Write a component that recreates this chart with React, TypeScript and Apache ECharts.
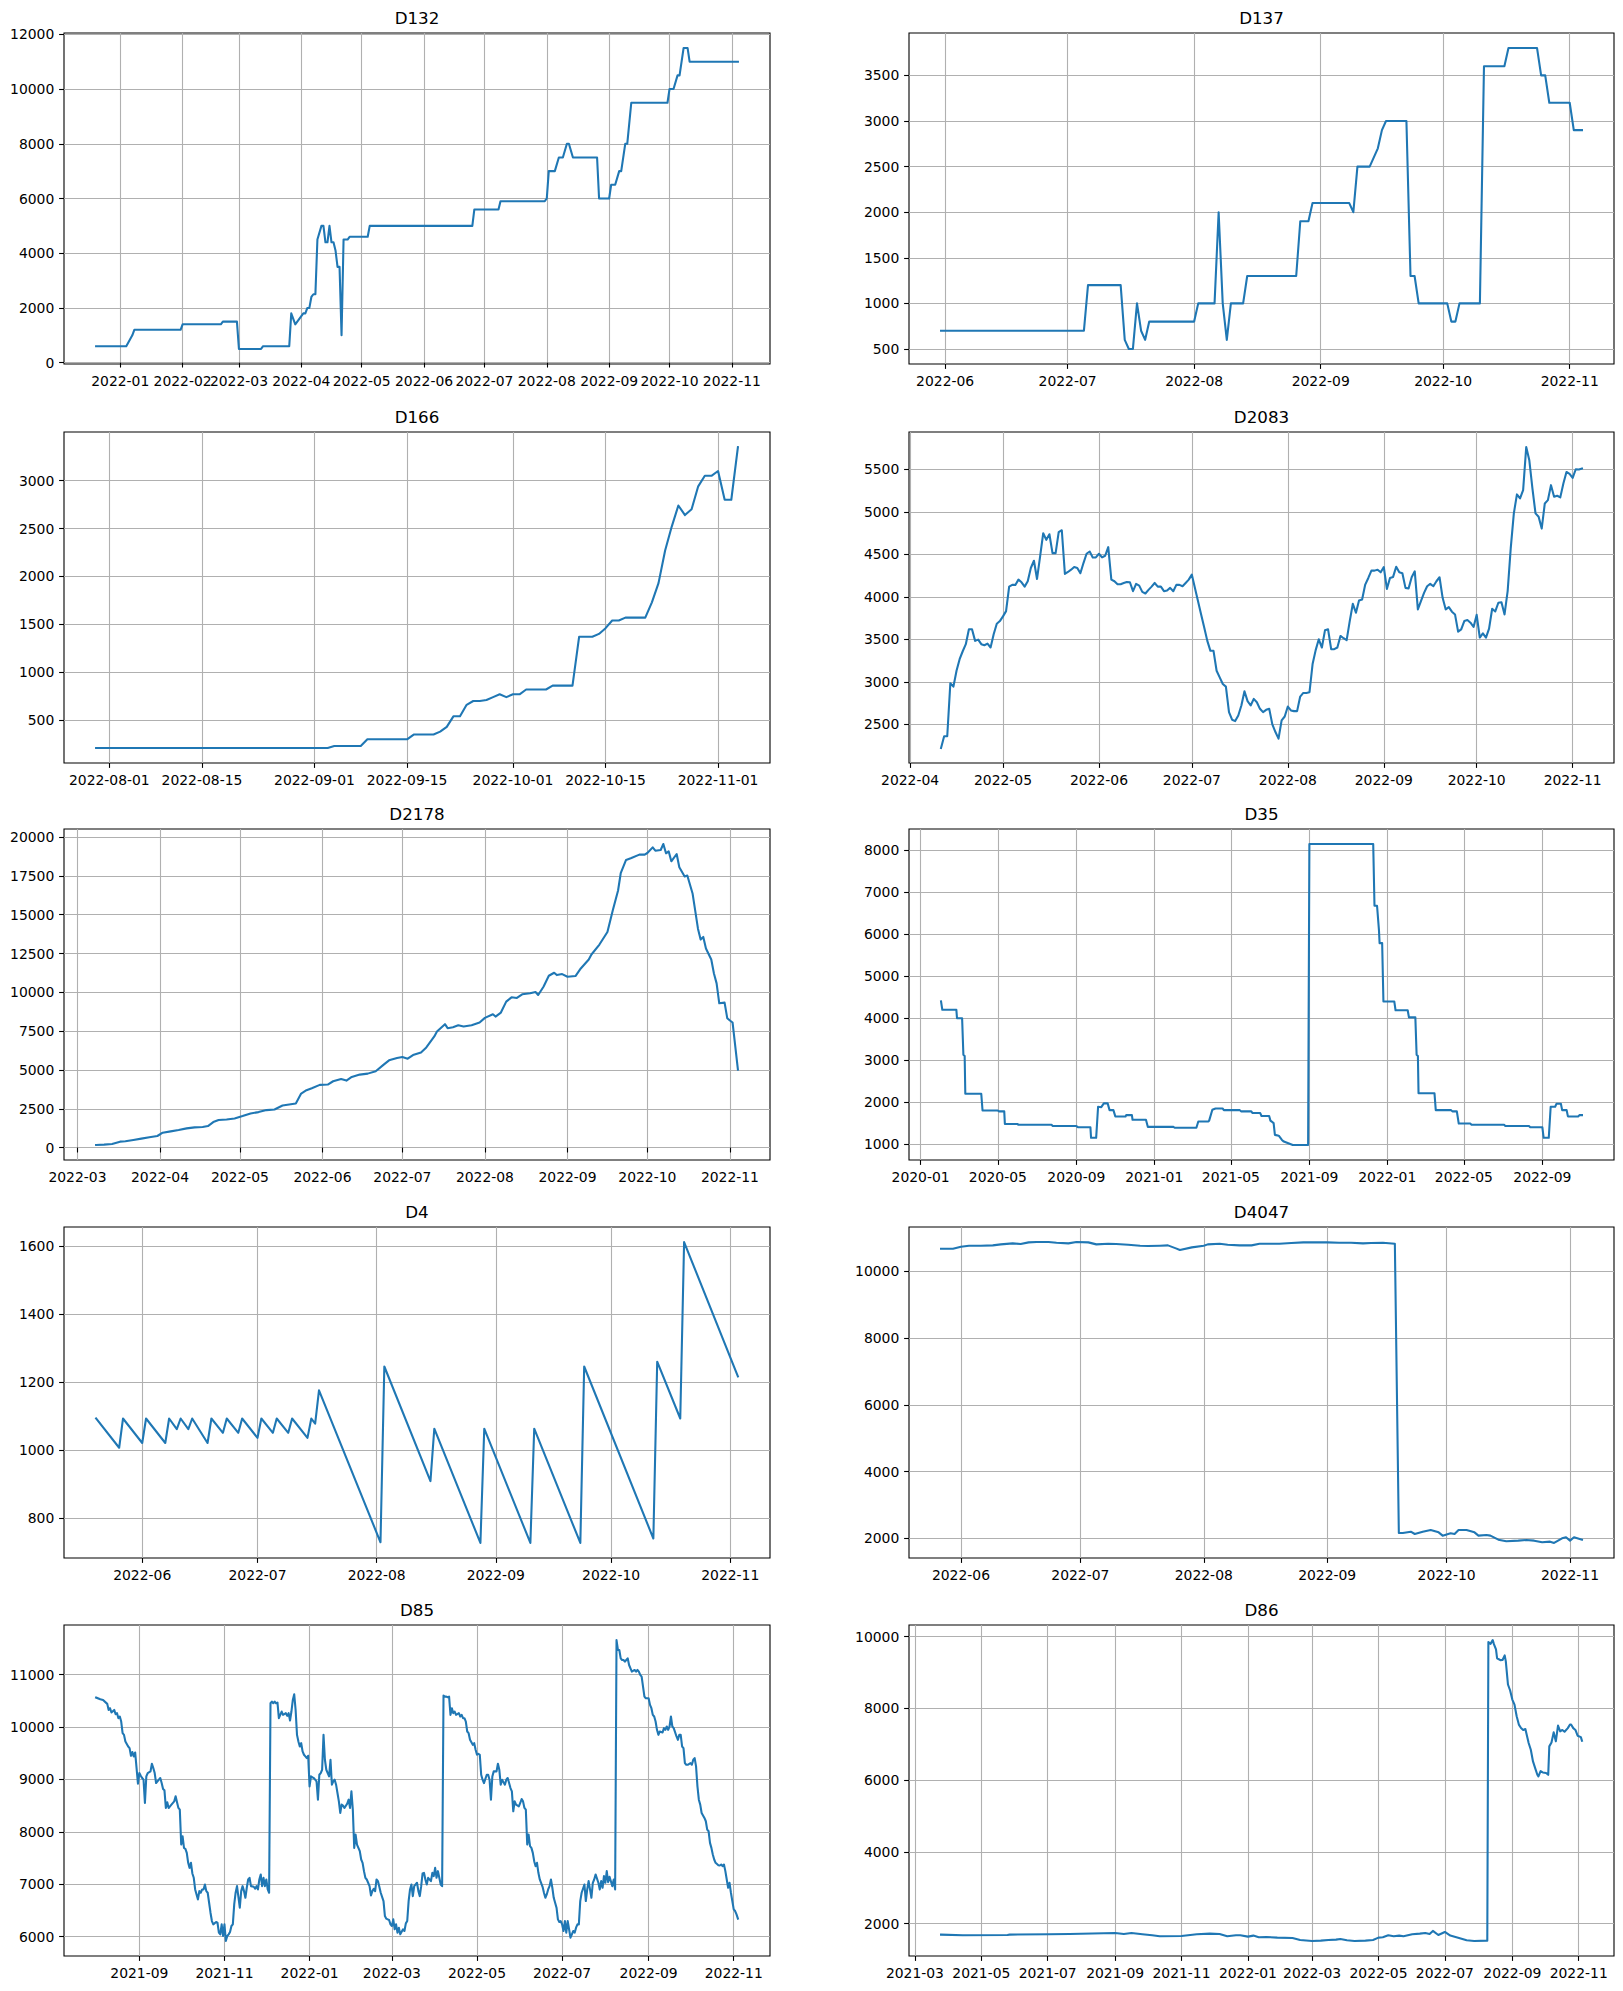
import React, { useEffect, useRef } from 'react';
import * as echarts from 'echarts';

// ---------------- DATA ----------------
// Step-like series: [date, value]
const d132Data: [string, number][] = [
  ['2021-12-20', 600], ['2022-01-04', 600], ['2022-01-07', 1000], ['2022-01-08', 1200], ['2022-01-31', 1200],
  ['2022-02-01', 1400], ['2022-02-20', 1400], ['2022-02-21', 1500], ['2022-02-28', 1500], ['2022-03-01', 500],
  ['2022-03-12', 500], ['2022-03-13', 600], ['2022-03-26', 600], ['2022-03-27', 1800], ['2022-03-29', 1400],
  ['2022-03-31', 1600], ['2022-04-02', 1800], ['2022-04-03', 1800], ['2022-04-04', 2000], ['2022-04-05', 2000],
  ['2022-04-06', 2400], ['2022-04-07', 2500], ['2022-04-08', 2500], ['2022-04-09', 4500], ['2022-04-11', 5000],
  ['2022-04-12', 5000], ['2022-04-13', 4400], ['2022-04-14', 4400], ['2022-04-15', 5000], ['2022-04-16', 4400],
  ['2022-04-17', 4400], ['2022-04-18', 4100], ['2022-04-19', 3500], ['2022-04-20', 3500], ['2022-04-21', 1000],
  ['2022-04-22', 4500], ['2022-04-24', 4500], ['2022-04-25', 4600], ['2022-05-04', 4600], ['2022-05-05', 5000],
  ['2022-06-25', 5000], ['2022-06-26', 5600], ['2022-07-08', 5600], ['2022-07-09', 5900], ['2022-07-31', 5900],
  ['2022-08-01', 6000], ['2022-08-02', 7000], ['2022-08-05', 7000], ['2022-08-07', 7500], ['2022-08-09', 7500],
  ['2022-08-11', 8000], ['2022-08-12', 8000], ['2022-08-14', 7500], ['2022-08-26', 7500], ['2022-08-27', 6000],
  ['2022-09-01', 6000], ['2022-09-02', 6500], ['2022-09-04', 6500], ['2022-09-06', 7000], ['2022-09-07', 7000],
  ['2022-09-09', 8000], ['2022-09-10', 8000], ['2022-09-12', 9500], ['2022-09-30', 9500], ['2022-10-01', 10000],
  ['2022-10-03', 10000], ['2022-10-05', 10500], ['2022-10-06', 10500], ['2022-10-08', 11500], ['2022-10-10', 11500],
  ['2022-10-11', 11000], ['2022-11-04', 11000],
];
const d132XTicks = ['2022-01', '2022-02', '2022-03', '2022-04', '2022-05', '2022-06', '2022-07', '2022-08', '2022-09', '2022-10', '2022-11'];
const d132YTicks = [0, 2000, 4000, 6000, 8000, 10000, 12000];

const d137Data: [string, number][] = [
  ['2022-05-31', 700], ['2022-07-05', 700], ['2022-07-06', 1200], ['2022-07-14', 1200], ['2022-07-15', 600],
  ['2022-07-16', 500], ['2022-07-17', 500], ['2022-07-18', 1000], ['2022-07-19', 700], ['2022-07-20', 600],
  ['2022-07-21', 800], ['2022-08-01', 800], ['2022-08-02', 1000], ['2022-08-06', 1000], ['2022-08-07', 2000],
  ['2022-08-08', 1000], ['2022-08-09', 600], ['2022-08-10', 1000], ['2022-08-13', 1000], ['2022-08-14', 1300],
  ['2022-08-26', 1300], ['2022-08-27', 1900], ['2022-08-29', 1900], ['2022-08-30', 2100], ['2022-09-08', 2100],
  ['2022-09-09', 2000], ['2022-09-10', 2500], ['2022-09-13', 2500], ['2022-09-15', 2700], ['2022-09-16', 2900],
  ['2022-09-17', 3000], ['2022-09-22', 3000], ['2022-09-23', 1300], ['2022-09-24', 1300], ['2022-09-25', 1000],
  ['2022-10-02', 1000], ['2022-10-03', 800], ['2022-10-04', 800], ['2022-10-05', 1000], ['2022-10-10', 1000],
  ['2022-10-11', 3600], ['2022-10-16', 3600], ['2022-10-17', 3800], ['2022-10-24', 3800], ['2022-10-25', 3500],
  ['2022-10-26', 3500], ['2022-10-27', 3200], ['2022-11-01', 3200], ['2022-11-02', 2900], ['2022-11-04', 2900],
];
const d137XTicks = ['2022-06', '2022-07', '2022-08', '2022-09', '2022-10', '2022-11'];
const d137YTicks = [500, 1000, 1500, 2000, 2500, 3000, 3500];

const d166Data: [string, number][] = [
  ['2022-07-30', 210], ['2022-09-03', 210], ['2022-09-04', 230], ['2022-09-08', 230], ['2022-09-09', 300],
  ['2022-09-15', 300], ['2022-09-16', 350], ['2022-09-19', 350], ['2022-09-20', 380], ['2022-09-21', 430],
  ['2022-09-22', 540], ['2022-09-23', 540], ['2022-09-24', 660], ['2022-09-25', 700], ['2022-09-26', 700],
  ['2022-09-27', 710], ['2022-09-28', 740], ['2022-09-29', 770], ['2022-09-30', 740], ['2022-10-01', 770],
  ['2022-10-02', 770], ['2022-10-03', 820], ['2022-10-06', 820], ['2022-10-07', 860], ['2022-10-10', 860],
  ['2022-10-11', 1370], ['2022-10-13', 1370], ['2022-10-14', 1400], ['2022-10-15', 1460], ['2022-10-16', 1540],
  ['2022-10-17', 1540], ['2022-10-18', 1570], ['2022-10-21', 1570], ['2022-10-22', 1730], ['2022-10-23', 1930],
  ['2022-10-24', 2270], ['2022-10-25', 2520], ['2022-10-26', 2740], ['2022-10-27', 2640], ['2022-10-28', 2700],
  ['2022-10-29', 2940], ['2022-10-30', 3050], ['2022-10-31', 3050], ['2022-11-01', 3100], ['2022-11-02', 2800],
  ['2022-11-03', 2800], ['2022-11-04', 3350],
];
const d166XTicks = ['2022-08-01', '2022-08-15', '2022-09-01', '2022-09-15', '2022-10-01', '2022-10-15', '2022-11-01'];
const d166YTicks = [500, 1000, 1500, 2000, 2500, 3000];

// Daily values starting at base date
const d2083Start = '2022-04-11';
const d2083Values = [
  2223, 2360, 2360, 2983, 2944, 3131, 3267, 3360, 3443, 3618, 3618, 3482, 3497, 3443, 3431, 3450, 3404, 3560, 3684, 3715,
  3770, 3832, 4120, 4140, 4140, 4202, 4171, 4120, 4183, 4339, 4424, 4210, 4475, 4748, 4670, 4736, 4514, 4514, 4760, 4783,
  4269, 4292, 4319, 4350, 4339, 4277, 4397, 4506, 4533, 4463, 4463, 4506, 4463, 4483, 4584, 4202, 4183, 4148, 4148, 4163,
  4175, 4171, 4066, 4152, 4132, 4058, 4039, 4082, 4120, 4163, 4120, 4120, 4066, 4074, 4105, 4066, 4140, 4140, 4124, 4163,
  4202, 4261, 4105, 3949, 3793, 3638, 3482, 3365, 3365, 3131, 3053, 2975, 2944, 2644, 2555, 2539, 2605, 2722, 2890, 2773,
  2722, 2800, 2761, 2683, 2644, 2671, 2683, 2500, 2410, 2332, 2547, 2593, 2710, 2664, 2656, 2656, 2827, 2870, 2870, 2878,
  3209, 3373, 3501, 3404, 3606, 3618, 3384, 3384, 3404, 3540, 3513, 3490, 3715, 3918, 3813, 3957, 3969, 4144, 4222, 4308,
  4308, 4319, 4288, 4350, 4093, 4222, 4234, 4354, 4288, 4277, 4105, 4097, 4230, 4300, 3852, 3949, 4047, 4124, 4152, 4124,
  4183, 4230, 3988, 3852, 3879, 3825, 3793, 3591, 3618, 3715, 3727, 3696, 3645, 3789, 3521, 3571, 3521, 3626, 3860, 3828,
  3930, 3937, 3793, 4066, 4572, 4981, 5204, 5157, 5254, 5761, 5605, 5274, 4981, 4942, 4802, 5098, 5137, 5313, 5176, 5188,
  5169, 5332, 5468, 5445, 5398, 5500, 5496, 5508,
];
const d2083XTicks = ['2022-04', '2022-05', '2022-06', '2022-07', '2022-08', '2022-09', '2022-10', '2022-11'];
const d2083YTicks = [2500, 3000, 3500, 4000, 4500, 5000, 5500];

// [day offset from base, value]
const d2178Base = '2022-03-01';
const d2178Data: [number, number][] = [
  [7, 171], [10, 192], [13, 235], [16, 385], [18, 406], [21, 491], [24, 577], [27, 662], [30, 748], [32, 962],
  [35, 1047], [38, 1132], [41, 1239], [44, 1303], [47, 1325], [49, 1389], [51, 1645], [53, 1774], [56, 1816], [59, 1880],
  [62, 2030], [65, 2201], [68, 2286], [71, 2415], [74, 2457], [77, 2714], [82, 2842], [84, 3483], [86, 3697], [88, 3825],
  [91, 4038], [94, 4060], [96, 4274], [99, 4423], [101, 4316], [103, 4551], [106, 4701], [109, 4765], [112, 4915], [115, 5342],
  [117, 5620], [120, 5769], [122, 5833], [124, 5726], [126, 5962], [129, 6132], [131, 6453], [134, 7158], [135, 7479], [138, 7949],
  [139, 7692], [141, 7756], [143, 7885], [145, 7799], [148, 7885], [151, 8056], [153, 8355], [156, 8590], [157, 8440], [159, 8697],
  [161, 9402], [163, 9679], [165, 9637], [167, 9872], [170, 9936], [172, 10021], [173, 9829], [175, 10363], [177, 11068], [179, 11261],
  [180, 11111], [182, 11175], [184, 11004], [187, 11047], [189, 11538], [192, 12115], [193, 12436], [196, 13077], [199, 13889], [201, 15278],
  [203, 16560], [204, 17671], [206, 18526], [208, 18654], [211, 18868], [213, 18868], [214, 18974], [216, 19338], [217, 19124], [219, 19167],
  [220, 19551], [221, 18953], [222, 19081], [223, 18440], [225, 18910], [226, 18056], [228, 17457], [229, 17521], [231, 16346], [233, 14103],
  [234, 13397], [235, 13568], [236, 12821], [238, 12115], [239, 11218], [240, 10577], [241, 9295], [243, 9338], [244, 8333], [245, 8184],
  [246, 8056], [248, 5021],
];
const d2178XTicks = ['2022-03', '2022-04', '2022-05', '2022-06', '2022-07', '2022-08', '2022-09', '2022-10', '2022-11'];
const d2178YTicks = [0, 2500, 5000, 7500, 10000, 12500, 15000, 17500, 20000];

const d35Data: [string, number][] = [
  ['2020-02-02', 4400], ['2020-02-04', 4200], ['2020-02-26', 4200], ['2020-02-27', 4000], ['2020-03-06', 4000],
  ['2020-03-08', 3130], ['2020-03-10', 3100], ['2020-03-11', 2200], ['2020-04-05', 2200], ['2020-04-07', 1800],
  ['2020-05-01', 1800], ['2020-05-03', 1780], ['2020-05-11', 1780], ['2020-05-12', 1480], ['2020-06-01', 1480],
  ['2020-06-02', 1460], ['2020-07-24', 1460], ['2020-07-26', 1430], ['2020-09-01', 1430], ['2020-09-04', 1400],
  ['2020-09-23', 1400], ['2020-09-24', 1150], ['2020-10-02', 1150], ['2020-10-05', 1890], ['2020-10-10', 1880],
  ['2020-10-14', 1970], ['2020-10-20', 1970], ['2020-10-23', 1810], ['2020-10-29', 1810], ['2020-11-01', 1660],
  ['2020-11-17', 1660], ['2020-11-18', 1690], ['2020-11-27', 1690], ['2020-11-28', 1580], ['2020-12-19', 1580],
  ['2020-12-22', 1410], ['2021-01-31', 1410], ['2021-02-02', 1390], ['2021-03-08', 1390], ['2021-03-11', 1540],
  ['2021-03-27', 1540], ['2021-03-28', 1560], ['2021-04-02', 1820], ['2021-04-07', 1850], ['2021-04-18', 1850],
  ['2021-04-20', 1810], ['2021-05-15', 1810], ['2021-05-17', 1780], ['2021-06-02', 1780], ['2021-06-04', 1740],
  ['2021-06-16', 1740], ['2021-06-18', 1670], ['2021-06-30', 1670], ['2021-07-02', 1560], ['2021-07-07', 1500],
  ['2021-07-09', 1220], ['2021-07-15', 1200], ['2021-07-20', 1100], ['2021-07-23', 1060], ['2021-07-30', 1020],
  ['2021-08-06', 980], ['2021-08-30', 980], ['2021-09-01', 8150], ['2021-12-10', 8150], ['2021-12-12', 6680],
  ['2021-12-16', 6680], ['2021-12-19', 6100], ['2021-12-20', 5790], ['2021-12-24', 5790], ['2021-12-26', 4400],
  ['2022-01-12', 4400], ['2022-01-14', 4190], ['2022-02-02', 4190], ['2022-02-04', 4020], ['2022-02-14', 4020],
  ['2022-02-16', 3130], ['2022-02-18', 3100], ['2022-02-19', 2210], ['2022-03-16', 2210], ['2022-03-18', 1810],
  ['2022-04-11', 1810], ['2022-04-13', 1780], ['2022-04-20', 1780], ['2022-04-23', 1490], ['2022-05-11', 1490],
  ['2022-05-13', 1460], ['2022-07-03', 1460], ['2022-07-05', 1430], ['2022-08-11', 1430], ['2022-08-13', 1400],
  ['2022-09-01', 1400], ['2022-09-03', 1150], ['2022-09-11', 1150], ['2022-09-14', 1890], ['2022-09-21', 1890],
  ['2022-09-23', 1960], ['2022-09-30', 1960], ['2022-10-02', 1810], ['2022-10-09', 1810], ['2022-10-11', 1660],
  ['2022-10-27', 1660], ['2022-10-29', 1690], ['2022-11-02', 1690],
];
const d35XTicks = ['2020-01', '2020-05', '2020-09', '2021-01', '2021-05', '2021-09', '2022-01', '2022-05', '2022-09'];
const d35YTicks = [1000, 2000, 3000, 4000, 5000, 6000, 7000, 8000];

const d4Data: [string, number][] = [
  ['2022-05-20', 1094], ['2022-05-26', 1008], ['2022-05-27', 1094], ['2022-06-01', 1022], ['2022-06-02', 1094],
  ['2022-06-07', 1022], ['2022-06-08', 1094], ['2022-06-10', 1063], ['2022-06-11', 1094], ['2022-06-13', 1063],
  ['2022-06-14', 1094], ['2022-06-18', 1022], ['2022-06-19', 1094], ['2022-06-22', 1052], ['2022-06-23', 1094],
  ['2022-06-26', 1052], ['2022-06-27', 1094], ['2022-07-01', 1037], ['2022-07-02', 1094], ['2022-07-05', 1052],
  ['2022-07-06', 1094], ['2022-07-09', 1052], ['2022-07-10', 1094], ['2022-07-14', 1037], ['2022-07-15', 1094],
  ['2022-07-16', 1079], ['2022-07-17', 1177], ['2022-08-02', 730], ['2022-08-03', 1247], ['2022-08-15', 910],
  ['2022-08-16', 1064], ['2022-08-28', 728], ['2022-08-29', 1064], ['2022-09-10', 728], ['2022-09-11', 1064],
  ['2022-09-23', 728], ['2022-09-24', 1247], ['2022-10-12', 741], ['2022-10-13', 1261], ['2022-10-19', 1094],
  ['2022-10-20', 1613], ['2022-11-03', 1218],
];
const d4XTicks = ['2022-06', '2022-07', '2022-08', '2022-09', '2022-10', '2022-11'];
const d4YTicks = [800, 1000, 1200, 1400, 1600];

const d4047Base = '2022-06-01';
const d4047Data: [number, number][] = [
  [-5, 10677], [-2, 10677], [0, 10736], [2, 10766], [5, 10766], [8, 10776], [10, 10806], [13, 10836], [15, 10816], [17, 10866],
  [19, 10876], [22, 10876], [24, 10856], [27, 10836], [29, 10876], [32, 10866], [34, 10806], [37, 10826], [39, 10816], [42, 10796],
  [45, 10766], [47, 10756], [50, 10766], [52, 10776], [54, 10687], [55, 10637], [58, 10716], [61, 10766], [62, 10806], [65, 10826],
  [67, 10796], [70, 10776], [73, 10776], [75, 10826], [78, 10826], [80, 10826], [83, 10846], [86, 10866], [88, 10866], [92, 10866],
  [95, 10856], [98, 10856], [101, 10836], [103, 10846], [106, 10856], [109, 10826], [110, 2159], [111, 2159], [113, 2199], [114, 2129],
  [116, 2199], [118, 2249], [120, 2179], [121, 2080], [123, 2149], [124, 2129], [125, 2249], [127, 2249], [129, 2179], [130, 2080],
  [132, 2100], [133, 2080], [135, 1960], [137, 1910], [140, 1930], [142, 1950], [144, 1930], [146, 1881], [148, 1900], [149, 1861],
  [151, 2000], [152, 2030], [153, 1930], [154, 2030], [156, 1960],
];
const d4047XTicks = ['2022-06', '2022-07', '2022-08', '2022-09', '2022-10', '2022-11'];
const d4047YTicks = [2000, 4000, 6000, 8000, 10000];

const d85Base = '2021-08-01';
const d85Data: [number, number][] = [
  [0, 10562], [3, 10530], [5, 10518], [8, 10442], [9, 10327], [10, 10359], [11, 10277], [13, 10327], [14, 10245], [15, 10264],
  [16, 10169], [17, 10201], [18, 10105], [19, 9883], [20, 9851], [21, 9725], [23, 9629], [24, 9598], [25, 9452], [26, 9522],
  [27, 9439], [28, 9515], [30, 8919], [31, 9122], [32, 9071], [33, 9027], [34, 8995], [35, 8551], [36, 9058], [37, 9122],
  [39, 9154], [40, 9300], [41, 9217], [42, 9122], [43, 8931], [44, 8963], [45, 8995], [46, 9027], [47, 8931], [48, 8817],
  [49, 8792], [50, 8456], [51, 8563], [52, 8456], [53, 8487], [54, 8519], [56, 8582], [57, 8678], [58, 8563], [59, 8456],
  [60, 8424], [61, 7758], [62, 7916], [63, 7694], [64, 7675], [65, 7599], [66, 7409], [67, 7313], [68, 7409], [69, 7206],
  [70, 7123], [71, 6901], [73, 6711], [74, 6869], [75, 6838], [76, 6901], [77, 6901], [78, 6996], [79, 6869], [80, 6838],
  [81, 6647], [82, 6457], [83, 6298], [84, 6235], [86, 6279], [87, 6266], [88, 6076], [89, 6044], [90, 6235], [91, 6013],
  [92, 6235], [93, 5918], [94, 6013], [95, 6044], [96, 6089], [97, 6203], [98, 6235], [99, 6615], [100, 6838], [101, 6964],
  [103, 6552], [104, 6869], [105, 6964], [106, 6869], [107, 6742], [108, 6933], [109, 7091], [110, 7123], [111, 6964], [113, 6952],
  [114, 6914], [115, 6964], [116, 6901], [117, 7091], [118, 7187], [119, 6964], [120, 7123], [121, 6964], [122, 7091], [123, 6901],
  [124, 6838], [125, 10454], [126, 10486], [127, 10454], [128, 10486], [129, 10454], [130, 10467], [131, 10169], [132, 10232], [133, 10296],
  [134, 10232], [136, 10264], [137, 10213], [138, 10264], [139, 10124], [140, 10296], [141, 10518], [142, 10626], [143, 10327], [144, 9851],
  [145, 9725], [146, 9629], [147, 9693], [148, 9534], [149, 9471], [150, 9439], [151, 9408], [152, 9452], [153, 8868], [154, 9058],
  [156, 9027], [157, 8995], [158, 8963], [159, 8614], [160, 9090], [161, 9122], [162, 9185], [163, 9851], [164, 9376], [165, 9185],
  [166, 9122], [167, 9058], [168, 9376], [169, 8900], [170, 8963], [171, 8995], [172, 8900], [173, 8741], [174, 8582], [175, 8360],
  [176, 8519], [177, 8500], [178, 8456], [180, 8538], [181, 8614], [182, 8456], [183, 8773], [184, 8424], [185, 7694], [186, 7948],
  [187, 7758], [188, 7694], [189, 7631], [190, 7472], [191, 7409], [192, 7250], [193, 7123], [194, 7091], [196, 6964], [197, 6787],
  [198, 6869], [199, 6914], [200, 6869], [201, 7091], [202, 7060], [203, 6952], [204, 6838], [206, 6679], [207, 6393], [208, 6343],
  [209, 6330], [210, 6317], [211, 6235], [212, 6203], [213, 6330], [214, 6140], [215, 6235], [216, 6076], [217, 6171], [218, 6044],
  [220, 6140], [221, 6108], [222, 6254], [223, 6298], [224, 6679], [225, 6901], [226, 6996], [227, 6774], [228, 6964], [230, 7028],
  [231, 6869], [232, 6774], [233, 6964], [234, 7206], [235, 7218], [236, 7091], [237, 6996], [238, 7123], [240, 7060], [241, 7218],
  [242, 7155], [243, 7313], [244, 7123], [245, 7250], [246, 7123], [247, 6996], [248, 6964], [249, 10600], [250, 10581], [251, 10581],
  [252, 10568], [253, 10581], [254, 10232], [255, 10359], [256, 10264], [257, 10296], [258, 10232], [260, 10264], [261, 10201], [262, 10232],
  [263, 10169], [264, 10169], [265, 10105], [266, 9915], [267, 9883], [268, 9756], [270, 9661], [271, 9693], [272, 9566], [273, 9471],
  [274, 9490], [275, 9471], [276, 9090], [277, 8995], [278, 8931], [280, 9090], [281, 9090], [282, 8995], [283, 8614], [284, 9058],
  [285, 9154], [286, 9154], [287, 9154], [288, 9300], [289, 9185], [290, 8900], [291, 8995], [293, 8900], [294, 8995], [295, 9027],
  [296, 8931], [297, 8836], [298, 8773], [299, 8392], [300, 8582], [301, 8519], [303, 8487], [304, 8551], [305, 8627], [306, 8582],
  [307, 8456], [308, 8424], [309, 7758], [310, 7948], [311, 7726], [312, 7694], [313, 7599], [314, 7440], [315, 7345], [316, 7409],
  [317, 7218], [318, 7091], [320, 6952], [321, 6838], [322, 6742], [323, 6806], [324, 6901], [325, 6964], [326, 7091], [327, 6933],
  [328, 6742], [330, 6552], [331, 6330], [332, 6279], [333, 6298], [334, 6235], [335, 6108], [336, 6298], [337, 6076], [338, 6298],
  [340, 5981], [341, 6044], [342, 6108], [343, 6076], [344, 6171], [345, 6235], [346, 6235], [347, 6679], [348, 6838], [350, 6996],
  [351, 6679], [352, 6901], [353, 7060], [354, 6901], [355, 6742], [356, 7028], [357, 7091], [358, 7187], [360, 7028], [361, 6901],
  [362, 7060], [363, 6933], [364, 7155], [365, 7028], [366, 7250], [367, 7041], [368, 7142], [370, 6964], [371, 7091], [372, 6901],
  [373, 11660], [374, 11470], [375, 11470], [376, 11311], [377, 11279], [378, 11279], [379, 11248], [380, 11279], [381, 11311], [382, 11184],
  [383, 11121], [384, 11057], [386, 11089], [387, 11057], [388, 11089], [389, 11057], [390, 10994], [391, 10962], [392, 10772], [393, 10581],
  [394, 10549], [396, 10549], [397, 10423], [398, 10359], [399, 10232], [400, 10201], [401, 10105], [402, 9947], [403, 9851], [404, 9915],
  [406, 9896], [407, 9978], [408, 9947], [409, 10010], [410, 9947], [411, 10010], [412, 10201], [413, 10010], [414, 9978], [416, 9820],
  [417, 9756], [418, 9851], [419, 9851], [420, 9629], [421, 9598], [422, 9312], [423, 9280], [424, 9280], [426, 9312], [427, 9280],
  [428, 9376], [429, 9408], [430, 9249], [431, 8868], [432, 8614], [433, 8519], [434, 8360], [436, 8265], [437, 8202], [438, 8043],
  [439, 8011], [440, 7790], [441, 7694], [442, 7567], [443, 7472], [444, 7409], [446, 7364], [447, 7358], [448, 7377], [449, 7345],
  [450, 7377], [451, 7250], [452, 7091], [453, 6933], [454, 7028], [455, 6838], [456, 6679], [457, 6520], [458, 6489], [459, 6425],
  [460, 6343],
];
const d85XTicks = ['2021-09', '2021-11', '2022-01', '2022-03', '2022-05', '2022-07', '2022-09', '2022-11'];
const d85YTicks = [6000, 7000, 8000, 9000, 10000, 11000];

const d86Base = '2021-03-01';
const d86Data: [number, number][] = [
  [24, 1692], [44, 1674], [85, 1683], [87, 1692], [123, 1702], [142, 1711], [184, 1739], [192, 1711], [199, 1739], [209, 1702],
  [218, 1674], [225, 1646], [245, 1655], [259, 1702], [271, 1720], [280, 1711], [287, 1646], [295, 1674], [299, 1674], [306, 1637],
  [311, 1665], [316, 1618], [323, 1627], [333, 1609], [347, 1600], [354, 1544], [365, 1516], [373, 1525], [380, 1544], [387, 1553],
  [391, 1572], [397, 1534], [404, 1516], [414, 1525], [421, 1544], [426, 1609], [430, 1618], [435, 1674], [440, 1646], [445, 1665],
  [449, 1646], [457, 1702], [464, 1720], [469, 1739], [473, 1711], [476, 1795], [481, 1683], [487, 1767], [492, 1665], [500, 1599],
  [507, 1534], [514, 1516], [526, 1525], [527, 9851], [529, 9800], [531, 9907], [532, 9800], [534, 9646], [535, 9400], [538, 9347],
  [540, 9350], [542, 9478], [543, 9319], [545, 8667], [547, 8500], [549, 8247], [551, 8107], [553, 7781], [555, 7550], [557, 7455],
  [559, 7400], [561, 7427], [564, 7035], [566, 6848], [568, 6522], [570, 6336], [572, 6150], [573, 6103], [575, 6250], [577, 6214],
  [580, 6200], [582, 6150], [583, 6942], [585, 7050], [587, 7333], [589, 7082], [591, 7520], [593, 7361], [595, 7400], [597, 7350],
  [600, 7450], [602, 7550], [603, 7550], [605, 7450], [607, 7400], [609, 7240], [612, 7200], [613, 7100],
];
const d86XTicks = ['2021-03', '2021-05', '2021-07', '2021-09', '2021-11', '2022-01', '2022-03', '2022-05', '2022-07', '2022-09', '2022-11'];
const d86YTicks = [2000, 4000, 6000, 8000, 10000];

// ---------------- HELPERS ----------------
const DAY = 86400000;
function ts(s: string): number {
  const p = s.split('-').map(Number);
  return Date.UTC(p[0], p[1] - 1, p.length > 2 ? p[2] : 1);
}
const fromDates = (d: [string, number][]) => d.map(([s, v]) => [ts(s), v] as [number, number]);
const fromOffsets = (base: string, d: [number, number][]) => d.map(([o, v]) => [ts(base) + o * DAY, v] as [number, number]);
const fromDaily = (base: string, vals: number[]) => vals.map((v, i) => [ts(base) + i * DAY, v] as [number, number]);

type Panel = { title: string; points: [number, number][]; xTicks: string[]; yTicks: number[] };

const panels: Panel[] = [
  { title: 'D132', points: fromDates(d132Data), xTicks: d132XTicks, yTicks: d132YTicks },
  { title: 'D137', points: fromDates(d137Data), xTicks: d137XTicks, yTicks: d137YTicks },
  { title: 'D166', points: fromDates(d166Data), xTicks: d166XTicks, yTicks: d166YTicks },
  { title: 'D2083', points: fromDaily(d2083Start, d2083Values), xTicks: d2083XTicks, yTicks: d2083YTicks },
  { title: 'D2178', points: fromOffsets(d2178Base, d2178Data), xTicks: d2178XTicks, yTicks: d2178YTicks },
  { title: 'D35', points: fromDates(d35Data), xTicks: d35XTicks, yTicks: d35YTicks },
  { title: 'D4', points: fromDates(d4Data), xTicks: d4XTicks, yTicks: d4YTicks },
  { title: 'D4047', points: fromOffsets(d4047Base, d4047Data), xTicks: d4047XTicks, yTicks: d4047YTicks },
  { title: 'D85', points: fromOffsets(d85Base, d85Data), xTicks: d85XTicks, yTicks: d85YTicks },
  { title: 'D86', points: fromOffsets(d86Base, d86Data), xTicks: d86XTicks, yTicks: d86YTicks },
];

// ---------------- LAYOUT ----------------
const COL_LEFT = [64, 909];
const COL_WIDTH = [706, 705];
const ROW_TOP = [33, 432, 829, 1227, 1625];
const PLOT_H = 331;
const FONT = 'DejaVu Sans';
const TICK_FS = 13.9;
const TITLE_FS = 16.7;

function buildOption() {
  const grid: any[] = [];
  const xAxis: any[] = [];
  const yAxis: any[] = [];
  const series: any[] = [];
  const title: any[] = [];

  panels.forEach((p, i) => {
    const row = Math.floor(i / 2);
    const col = i % 2;
    const left = COL_LEFT[col];
    const width = COL_WIDTH[col];
    const top = ROW_TOP[row];

    grid.push({ left, top, width, height: PLOT_H, show: true, borderColor: '#000', borderWidth: 1.1, backgroundColor: 'transparent' });

    const xs = p.points.map((d) => d[0]);
    const ys = p.points.map((d) => d[1]);
    const x0 = Math.min(...xs), x1 = Math.max(...xs);
    const y0 = Math.min(...ys), y1 = Math.max(...ys);
    const xm = (x1 - x0) * 0.05;
    const ym = (y1 - y0) * 0.05;

    const xTickVals = p.xTicks.map(ts);
    const labelMap = new Map<number, string>();
    xTickVals.forEach((t, k) => labelMap.set(t, p.xTicks[k]));

    xAxis.push({
      type: 'value',
      gridIndex: i,
      min: x0 - xm,
      max: x1 + xm,
      axisLine: { show: false },
      axisTick: { show: true, inside: false, length: 4.9, customValues: xTickVals, lineStyle: { color: '#000', width: 1.1 } },
      axisLabel: {
        show: true,
        customValues: xTickVals,
        margin: 9.7,
        color: '#000',
        fontFamily: FONT,
        fontSize: TICK_FS,
        formatter: (v: number) => labelMap.get(v) ?? '',
      },
      splitLine: { show: true, lineStyle: { color: '#b0b0b0', width: 1.1 } },
    });

    yAxis.push({
      type: 'value',
      gridIndex: i,
      min: y0 - ym,
      max: y1 + ym,
      axisLine: { show: false },
      axisTick: { show: true, inside: false, length: 4.9, customValues: p.yTicks, lineStyle: { color: '#000', width: 1.1 } },
      axisLabel: {
        show: true,
        customValues: p.yTicks,
        margin: 9.7,
        color: '#000',
        fontFamily: FONT,
        fontSize: TICK_FS,
        formatter: (v: number) => String(v),
      },
      splitLine: { show: true, lineStyle: { color: '#b0b0b0', width: 1.1 } },
    });

    series.push({
      type: 'line',
      xAxisIndex: i,
      yAxisIndex: i,
      data: p.points,
      showSymbol: false,
      symbol: 'none',
      silent: true,
      lineStyle: { color: '#1f77b4', width: 2.08, join: 'round', cap: 'square' },
      itemStyle: { color: '#1f77b4' },
      clip: true,
    });

    title.push({
      text: p.title,
      left: left + width / 2,
      top: top - 14.7,
      textAlign: 'center',
      textVerticalAlign: 'middle',
      padding: 0,
      textStyle: { fontFamily: FONT, fontSize: TITLE_FS, fontWeight: 'normal', color: '#000' },
    });
  });

  return { animation: false, backgroundColor: '#fff', grid, xAxis, yAxis, series, title };
}

export default function App() {
  const ref = useRef<HTMLDivElement>(null);
  useEffect(() => {
    if (!ref.current) return;
    const chart = echarts.init(ref.current, null, { renderer: 'svg' });
    chart.setOption(buildOption() as any);
    return () => chart.dispose();
  }, []);
  return (
    <div
      ref={ref}
      style={{ position: 'absolute', left: 0, top: 0, width: 1623, height: 1991, background: '#fff' }}
    />
  );
}
